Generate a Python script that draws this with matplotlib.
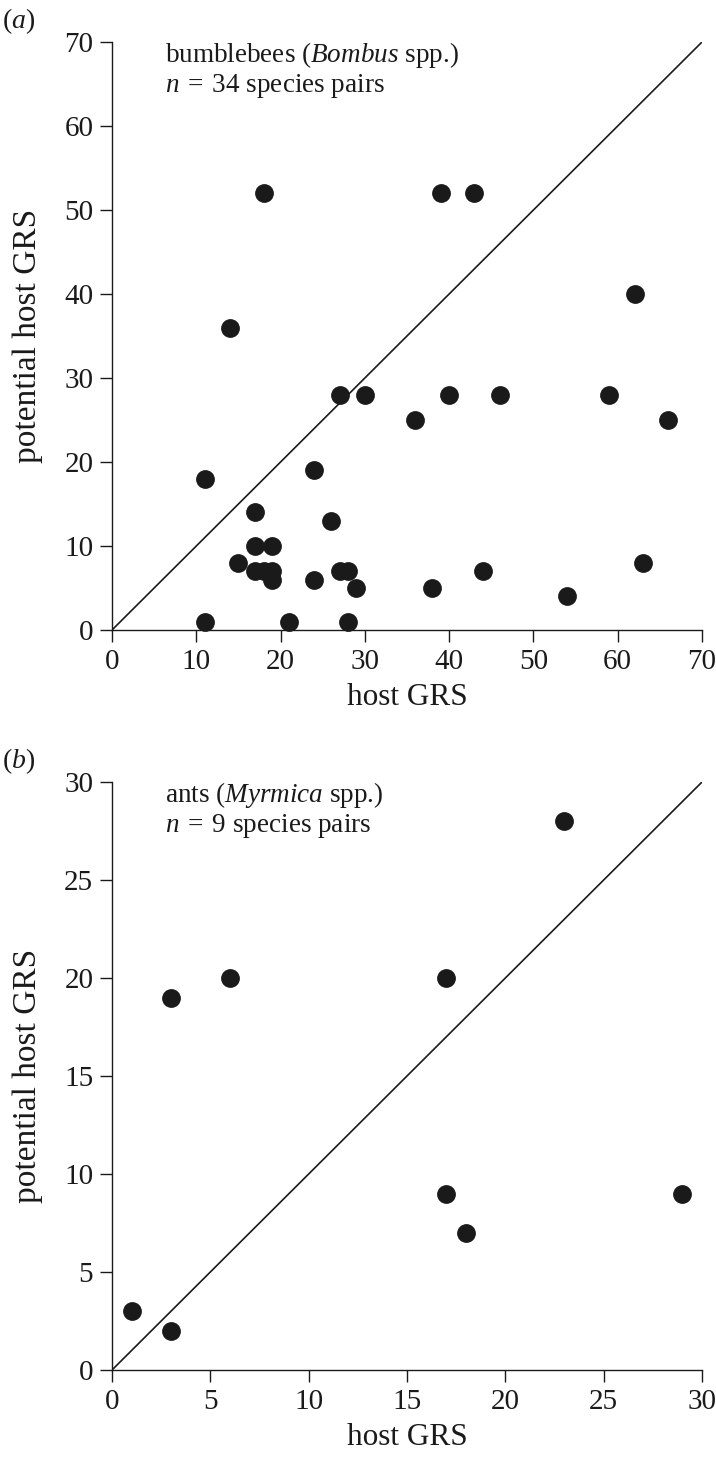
import matplotlib
matplotlib.use("Agg")
import matplotlib.pyplot as plt

plt.rcParams['font.family'] = ['Liberation Serif', 'DejaVu Serif']
plt.rcParams['mathtext.fontset'] = 'custom'
plt.rcParams['mathtext.rm'] = 'Liberation Serif'
plt.rcParams['mathtext.it'] = 'Liberation Serif:italic'

# Panel (a): bumblebees
bee_host = [18, 39, 43, 62, 14, 27, 30, 40, 46, 59, 36, 66, 11, 24, 26, 17, 17,
            19, 15, 17, 18, 19, 19, 24, 27, 28, 29, 38, 44, 63, 54, 11, 21, 28]
bee_pot = [52, 52, 52, 40, 36, 28, 28, 28, 28, 28, 25, 25, 18, 19, 13, 14, 10,
           10, 8, 7, 7, 7, 6, 6, 7, 7, 5, 5, 7, 8, 4, 1, 1, 1]

# Panel (b): ants
ant_host = [23, 6, 17, 3, 17, 29, 18, 1, 3]
ant_pot = [28, 20, 20, 19, 9, 9, 7, 3, 2]

bee_ticks = [0, 10, 20, 30, 40, 50, 60, 70]
ant_ticks = [0, 5, 10, 15, 20, 25, 30]

W, H = 716, 1458
fig = plt.figure(figsize=(W / 100, H / 100), dpi=100)

def make_ax(top_px, bottom_px):
    left = 112 / W
    width = 590 / W
    bottom = 1 - bottom_px / H
    height = (bottom_px - top_px) / H
    return fig.add_axes([left, bottom, width, height])

axa = make_ax(42, 630)
axb = make_ax(782, 1370)

sp = '\u2004'
panels = [
    (axa, bee_host, bee_pot, bee_ticks, 70, r'bumblebees ($\mathit{Bombus}$ spp.)',
     r'$n$' + sp + '=' + sp + '34 species pairs', r'($a$)'),
    (axb, ant_host, ant_pot, ant_ticks, 30, r'ants ($\mathit{Myrmica}$ spp.)',
     r'$n$' + sp + '=' + sp + '9 species pairs', r'($b$)'),
]

ink = '#1a1a1a'
for ax, xs, ys, ticks, lim, t1, t2, lab in panels:
    ax.plot([0, lim], [0, lim], color=ink, lw=1.2, zorder=1)
    ax.plot(xs, ys, 'o', color=ink, markersize=12.5, zorder=3, clip_on=False)
    ax.set_xlim(0, lim)
    ax.set_ylim(0, lim)
    ax.set_xticks(ticks)
    ax.set_yticks(ticks)
    for s in ['top', 'right']:
        ax.spines[s].set_visible(False)
    for s in ['left', 'bottom']:
        ax.spines[s].set_linewidth(1.0)
        ax.spines[s].set_color(ink)
    ax.tick_params(direction='out', length=8.5, width=1.0, labelsize=21,
                   pad=5, colors=ink)
    ax.set_xlabel('host GRS', fontsize=22.5, labelpad=6, color=ink)
    ax.set_ylabel('potential host GRS', fontsize=24, labelpad=15, color=ink)
    ax.text(0.09, 1 - 20 / 588, t1, transform=ax.transAxes, fontsize=19.5,
            va='baseline', ha='left', color=ink)
    ax.text(0.09, 1 - 50 / 588, t2, transform=ax.transAxes, fontsize=19.5,
            va='baseline', ha='left', color=ink)
    # panel label
    bbox = ax.get_position()
    fig.text(2 / W, bbox.y1 + 6 / H, lab, fontsize=20, ha='left', va='bottom',
             color=ink)

fig.savefig('out.png', dpi=100)
